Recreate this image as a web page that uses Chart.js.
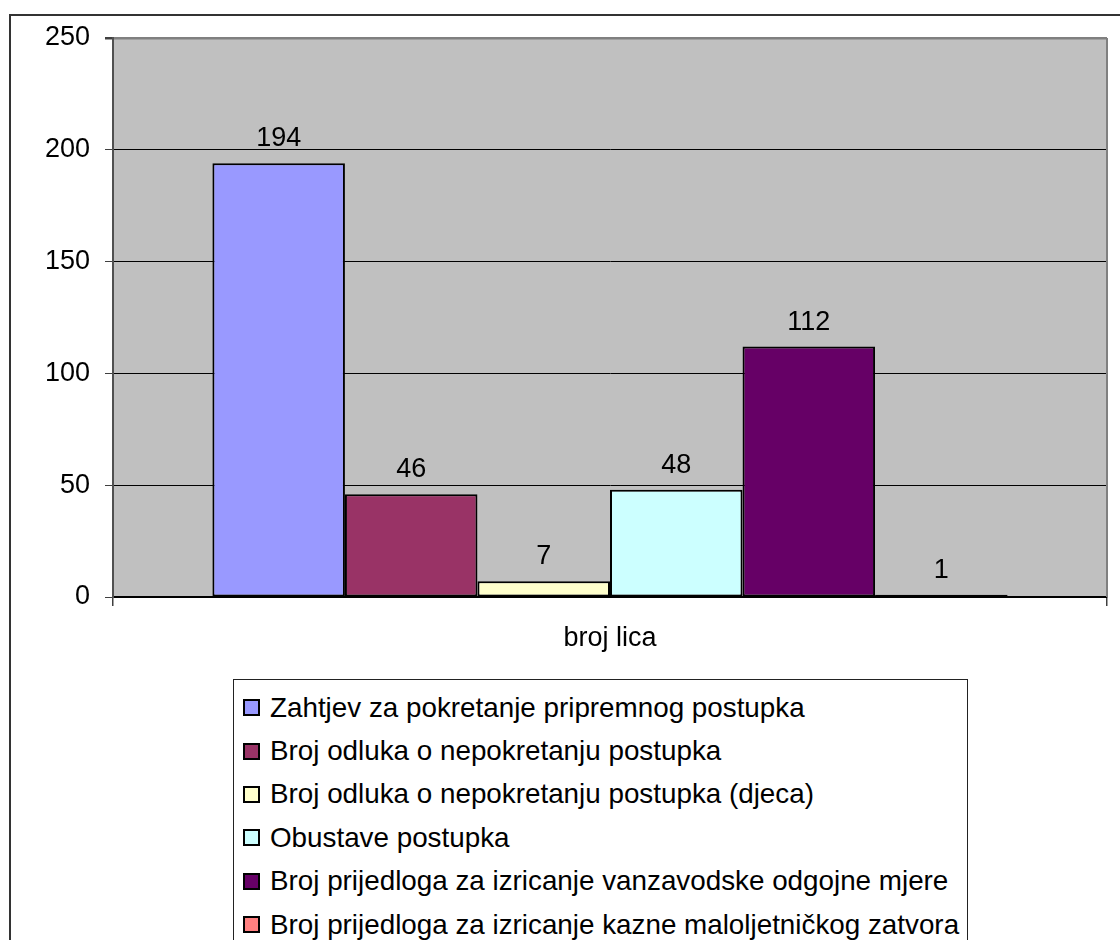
<!DOCTYPE html>
<html lang="bs">
<head>
<meta charset="utf-8">
<title>broj lica</title>
<script src="https://cdn.jsdelivr.net/npm/chart.js@4/dist/chart.umd.min.js"></script>
<style>
  html, body { margin: 0; padding: 0; background: #fff; overflow: hidden; }
  body { width: 1120px; height: 940px; position: relative; font-family: 'Liberation Sans', Arial, sans-serif; }
  .okvir { position: absolute; left: 9px; top: 14px; width: 1200px; height: 1000px; border: 2px solid #333; box-sizing: border-box; }
  #grafikon { position: absolute; left: 0; top: 0; }
  #legenda {
    position: absolute; left: 233px; top: 679px; width: 735px; height: 300px;
    border: 1px solid #222; box-sizing: border-box; background: #fff; padding-top: 6px;
  }
  .stavka { display: flex; align-items: center; height: 43.4px; font-size: 27.8px; color: #000; white-space: nowrap; }
  .kvadrat { width: 13px; height: 13px; border: 2px solid #000; margin-left: 9px; margin-right: 10px; flex: none; }
</style>
</head>
<body>
<div class="okvir"></div>
<canvas id="grafikon" width="1120" height="940"></canvas>
<div id="legenda"></div>
<script>
const categories = ['broj lica'];
const seriesNames = [
  'Zahtjev za pokretanje pripremnog postupka',
  'Broj odluka o nepokretanju postupka',
  'Broj odluka o nepokretanju postupka (djeca)',
  'Obustave postupka',
  'Broj prijedloga za izricanje vanzavodske odgojne mjere',
  'Broj prijedloga za izricanje kazne maloljetničkog zatvora'
];
const seriesValues = [194, 46, 7, 48, 112, 1];
const yTicks = [0, 50, 100, 150, 200, 250];
const seriesColors = ['#9999FF', '#993366', '#FFFFCC', '#CCFFFF', '#660066', '#FF8080'];

document.addEventListener('DOMContentLoaded', function() {
  initGrafikon();
});

// plot background and right border
const pozadinaPlugin = {
  id: 'pozadina',
  beforeDraw(chart) {
    const a = chart.chartArea;
    const ctx = chart.ctx;
    ctx.save();
    ctx.fillStyle = '#C0C0C0';
    ctx.fillRect(a.left, a.top, a.right - a.left, a.bottom - a.top);
    ctx.restore();
  },
  afterDraw(chart) {
    const a = chart.chartArea;
    const ctx = chart.ctx;
    ctx.save();
    ctx.strokeStyle = '#808080';
    ctx.lineWidth = 2;
    ctx.beginPath();
    ctx.moveTo(a.right, a.top);
    ctx.lineTo(a.right, a.bottom);
    ctx.stroke();
    ctx.restore();
  }
};

// value labels above the bars
const vrijednostiPlugin = {
  id: 'vrijednosti',
  afterDatasetsDraw(chart) {
    const ctx = chart.ctx;
    ctx.save();
    ctx.font = "27px 'Liberation Sans', Arial, sans-serif";
    ctx.fillStyle = '#000';
    ctx.textAlign = 'center';
    ctx.textBaseline = 'alphabetic';
    chart.data.datasets.forEach(function(ds, i) {
      chart.getDatasetMeta(i).data.forEach(function(bar, j) {
        ctx.fillText(String(ds.data[j]), bar.x, bar.y - 17);
      });
    });
    ctx.restore();
  }
};

function initGrafikon() {
  Chart.defaults.font.family = "'Liberation Sans', Arial, sans-serif";
  Chart.defaults.font.size = 27;
  Chart.defaults.color = '#000';

  const datasets = seriesNames.map(function(name, i) {
    return {
      label: name,
      data: [seriesValues[i]],
      backgroundColor: seriesColors[i],
      borderColor: '#000',
      borderWidth: 2,
      borderSkipped: false
    };
  });

  const ctx = document.getElementById('grafikon').getContext('2d');
  const grafikon = new Chart(ctx, {
    type: 'bar',
    data: { labels: categories, datasets: datasets },
    options: {
      responsive: false,
      animation: false,
      devicePixelRatio: 1,
      layout: { padding: { top: 38, right: 13, bottom: 0, left: 0 } },
      datasets: { bar: { categoryPercentage: 0.8, barPercentage: 1 } },
      plugins: {
        legend: { display: false },
        tooltip: { enabled: false }
      },
      scales: {
        x: {
          grid: {
            display: true,
            drawOnChartArea: false,
            tickLength: 9,
            color: '#404040',
            lineWidth: 1.5
          },
          border: { display: true, color: '#000', width: 2 },
          ticks: { padding: 16, font: { size: 27 } },
          afterFit: function(scale) { scale.height = 940 - 597; }
        },
        y: {
          min: 0,
          max: 250,
          afterBuildTicks: function(scale) {
            scale.ticks = yTicks.map(function(v) { return { value: v }; });
          },
          grid: {
            tickLength: 8,
            color: function(c) { return c.tick && c.tick.value === 250 ? '#808080' : '#000'; },
            lineWidth: function(c) { return c.tick && c.tick.value === 250 ? 2.5 : 1; },
            tickColor: '#404040'
          },
          border: { display: true, color: '#505050', width: 2 },
          ticks: { padding: 15, font: { size: 27 } },
          afterFit: function(scale) { scale.width = 113; }
        }
      }
    },
    plugins: [pozadinaPlugin, vrijednostiPlugin]
  });

  napraviLegendu(grafikon);
}

function napraviLegendu(chart) {
  const legenda = document.getElementById('legenda');
  chart.data.datasets.forEach(function(ds) {
    const stavka = document.createElement('div');
    stavka.className = 'stavka';
    const kvadrat = document.createElement('span');
    kvadrat.className = 'kvadrat';
    kvadrat.style.background = ds.backgroundColor;
    const tekst = document.createElement('span');
    tekst.textContent = ds.label;
    stavka.appendChild(kvadrat);
    stavka.appendChild(tekst);
    legenda.appendChild(stavka);
  });
}
</script>
</body>
</html>
